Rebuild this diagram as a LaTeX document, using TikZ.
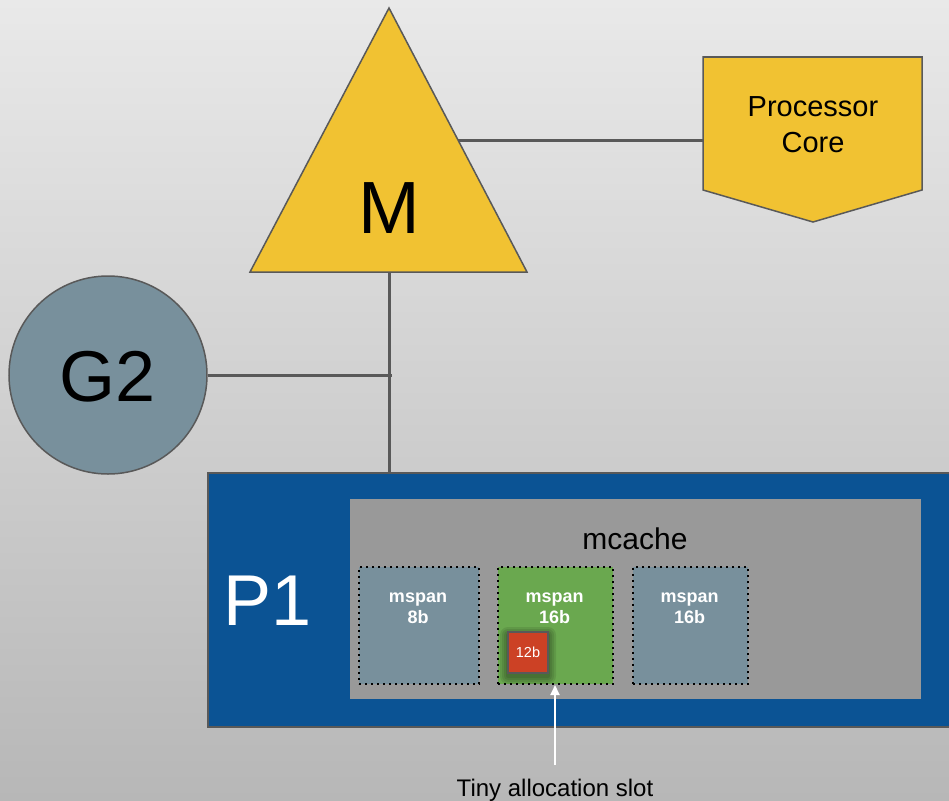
\documentclass[tikz,border=0pt]{standalone}
\usepackage{fontspec}
\setmainfont{Liberation Sans}
\usetikzlibrary{arrows.meta}
\definecolor{myyellow}{HTML}{F1C232}
\definecolor{myslate}{HTML}{78909C}
\definecolor{myblue}{HTML}{0B5394}
\definecolor{mygray}{HTML}{999999}
\definecolor{mygreen}{HTML}{6AA84F}
\definecolor{myred}{HTML}{CC4125}
\definecolor{myline}{HTML}{595959}
\definecolor{bgtop}{HTML}{E9E9E9}
\definecolor{bgbot}{HTML}{B7B7B7}
\tikzset{
  conn/.style={draw=myline, line width=3pt},
  shapeborder/.style={draw=myline, line width=1.5pt},
  bigtext/.style={inner sep=0pt, anchor=base, font=\fontsize{74}{80}\selectfont},
  spanbox/.style={draw=black, line width=2pt, dash pattern=on 2pt off 4pt, inner sep=0pt, minimum width=#1},
  spanlabel/.style={inner sep=0pt, text=white, align=center, font=\bfseries\fontsize{18}{21}\selectfont},
  glow/.style={fill=black, opacity=0.09, rounded corners=#1},
}
\begin{document}
\begin{tikzpicture}[x=1pt,y=-1pt]
\useasboundingbox (0,0) rectangle (949,800);
\clip (0,0) rectangle (949,800);
\shade[top color=bgtop, bottom color=bgbot] (0,0) rectangle (949,800);

% triangle M
\coordinate (Mtop) at (389,8);
\coordinate (Mleft) at (250,272);
\coordinate (Mright) at (527,272);
\coordinate (Mbase) at (389,272);
\coordinate (Mside) at (458,140);
\draw[shapeborder, fill=myyellow, line join=miter] (Mtop) -- (Mleft) -- (Mright) -- cycle;
\node[bigtext] (M) at (389,233) {M};

% processor core
\coordinate (PCtl) at (703,57);
\coordinate (PCtr) at (922,57);
\coordinate (PCbr) at (922,190);
\coordinate (PCb) at (813,222);
\coordinate (PCbl) at (703,190);
\coordinate (PCin) at (703,140);
\draw[shapeborder, fill=myyellow] (PCtl) -- (PCtr) -- (PCbr) -- (PCb) -- (PCbl) -- cycle;
\node[inner sep=0pt, align=center, font=\fontsize{29}{36}\selectfont] (PC) at (813,125) {Processor\\Core};

% G2
\node[circle, shapeborder, fill=myslate, minimum size=198pt, inner sep=0pt] (G2) at (108,375) {};
\node[bigtext, font=\fontsize{72}{80}\selectfont] (G2t) at (108,401) {G2};

% P1
\node[draw=myline, line width=2pt, fill=myblue, minimum width=760pt, minimum height=254pt, inner sep=0pt, anchor=north west] (P1) at (207,472) {};
\node[bigtext, text=white, font=\fontsize{72}{80}\selectfont] (P1t) at (268,625) {P1};

% mcache
\node[fill=mygray, minimum width=571pt, minimum height=200pt, inner sep=0pt, anchor=north west] (mcache) at (350,499) {};
\node[inner sep=0pt, anchor=base, font=\fontsize{30}{36}\selectfont] (mcachet) at (635,549) {mcache};

% mspans
\node[spanbox=120pt, minimum height=117pt, fill=myslate, anchor=north west] (s1) at (358,566) {};
\node[spanbox=115pt, minimum height=117pt, fill=mygreen, anchor=north west] (s2) at (497,566) {};
\node[spanbox=115pt, minimum height=117pt, fill=myslate, anchor=north west] (s3) at (632,566) {};
\node[spanlabel, anchor=base] (s1t) at (418,623) {mspan\\8b};
\node[spanlabel, anchor=base] (s2t) at (554.5,623) {mspan\\16b};
\node[spanlabel, anchor=base] (s3t) at (689.5,623) {mspan\\16b};

% 12b with soft shadow
\foreach \g in {2,4,6,8} {
  \fill[glow=\g pt] (507-\g+1,631-\g+4) rectangle (547+\g+1,672+\g+4);
}
\node[draw=myline, line width=2pt, fill=myred, minimum width=40pt, minimum height=41pt, inner sep=0pt, anchor=north west] (tiny) at (507,631) {};
\node[inner sep=0pt, text=white, font=\fontsize{14.5}{16}\selectfont] (tinyt) at (tiny.center) {12b};

% label & arrow
\node[inner sep=0pt, anchor=base, font=\fontsize{24}{28}\selectfont] (lbl) at (555,796) {Tiny allocation slot};
\coordinate (arrS) at (555,765);
\coordinate (arrE) at (555,685);
\draw[draw=white, line width=2pt, -{Triangle[length=10pt,width=9pt]}] (arrS) -- (arrE);

% connectors
\coordinate (J) at (392,374);
\draw[conn] (Mside) -- (PCin);
\draw[conn] (Mbase) -- (P1.north west -| Mbase);
\draw[conn] (G2.east) -- (G2.east -| J);
\end{tikzpicture}
\end{document}
